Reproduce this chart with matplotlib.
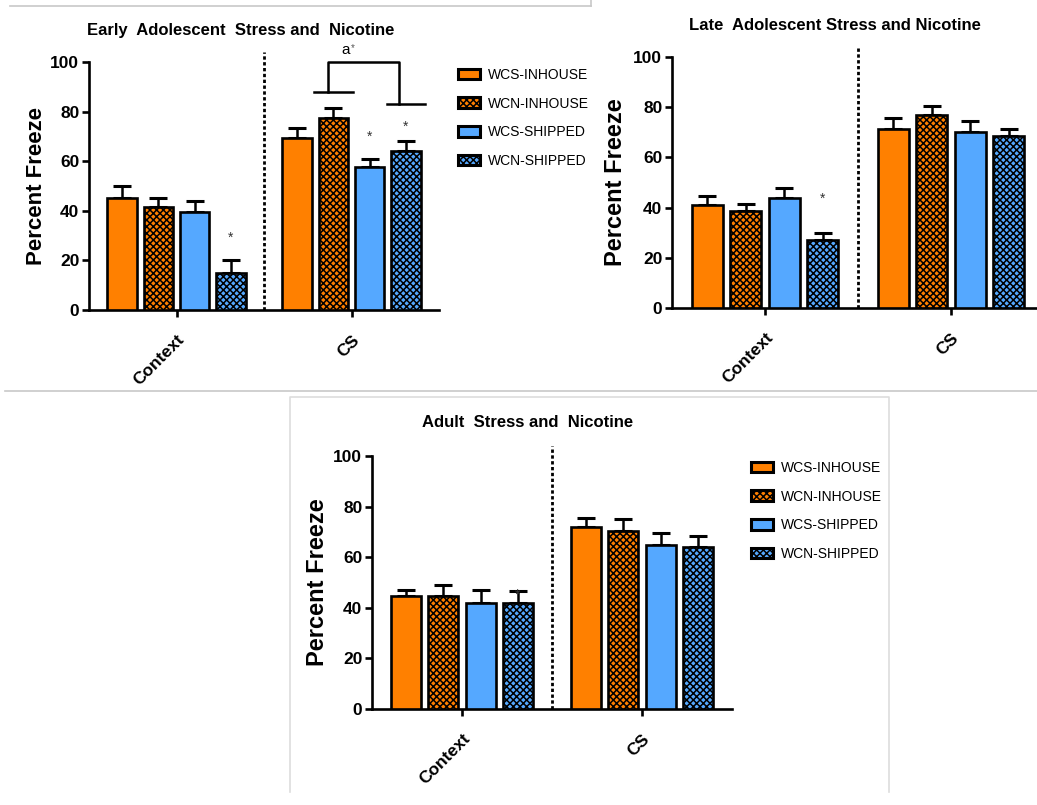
import numpy as np
import matplotlib
matplotlib.use("Agg")
import matplotlib.pyplot as plt
from matplotlib.patches import Patch
from matplotlib.lines import Line2D

plt.rcParams["font.family"] = ["Liberation Sans", "DejaVu Sans"]
plt.rcParams["hatch.linewidth"] = 1.1
plt.rcParams["hatch.color"] = "black"

# data
GROUPS = ["Context", "CS"]
SERIES = ["WCS-INHOUSE", "WCN-INHOUSE", "WCS-SHIPPED", "WCN-SHIPPED"]
COLORS = ["#FF8000", "#FF8000", "#55A8FF", "#55A8FF"]
HATCHES = [None, "xxxxx", None, "xxxxx"]

# rows = series, cols = (Context, CS)
EARLY_MEAN = [[45.0, 69.5], [41.5, 77.5], [39.5, 57.5], [15.0, 64.0]]
EARLY_SEM = [[5.0, 4.0], [3.5, 4.0], [4.5, 3.5], [5.0, 4.0]]
LATE_MEAN = [[41.0, 71.5], [38.5, 77.0], [44.0, 70.0], [27.0, 68.5]]
LATE_SEM = [[3.5, 4.0], [3.0, 3.5], [4.0, 4.5], [3.0, 3.0]]
ADULT_MEAN = [[44.5, 72.0], [44.5, 70.5], [42.0, 65.0], [42.0, 64.0]]
ADULT_SEM = [[2.5, 3.5], [4.5, 4.5], [5.0, 4.5], [4.5, 4.5]]

# significance stars: (group, series, value)
EARLY_STARS = [(0, 3, 29.0), (1, 2, 70.0), (1, 3, 74.0)]
LATE_STARS = [(0, 3, 43.5)]
ADULT_STARS = [(0, 3, 45.0)]

W, H = 1037, 805
fig = plt.figure(figsize=(W / 100, H / 100), dpi=100)

STEP, BW = 0.207, 0.168


def px_axes(l, r, t, b):
    return fig.add_axes([l / W, 1 - b / H, (r - l) / W, (b - t) / H])


def panel(ax, means, sems, stars, title, tx, ty, ylab_size=16):
    means = np.array(means)
    sems = np.array(sems)
    x = np.arange(len(GROUPS))
    for i in range(len(SERIES)):
        pos = x + (i - 1.5) * STEP
        ax.bar(pos, means[i], BW, color=COLORS[i], hatch=HATCHES[i],
               edgecolor="black", linewidth=1.9, zorder=3)
        ax.errorbar(pos, means[i], yerr=[np.zeros(len(x)), sems[i]], fmt="none",
                    ecolor="black", elinewidth=1.8, capsize=6.5, capthick=2.2, zorder=2)
    for g, s, v in stars:
        ax.text(g + (s - 1.5) * STEP, v, "*", ha="center", va="center",
                fontsize=10, color="#333333")
    ax.plot([0.5, 0.5], [0, 104], color="black", lw=2.0, ls=(0, (1.2, 0.9)),
            clip_on=False, zorder=1)
    ax.set_xlim(-0.5, 1.5)
    ax.set_ylim(0, 100)
    ax.set_yticks([0, 20, 40, 60, 80, 100])
    ax.set_xticks(x)
    ax.set_xticklabels(GROUPS, rotation=45, ha="right", rotation_mode="anchor",
                       fontsize=12.5, fontweight="bold")
    ax.set_yticklabels([str(v) for v in range(0, 101, 20)], fontsize=12.5,
                       fontweight="bold")
    for sp in ["top", "right"]:
        ax.spines[sp].set_visible(False)
    for sp in ["left", "bottom"]:
        ax.spines[sp].set_linewidth(1.9)
    ax.tick_params(width=1.9, length=5, pad=2)
    ax.tick_params(axis="x", pad=11)
    ax.set_ylabel("Percent Freeze", fontsize=ylab_size, fontweight="bold")
    ax.yaxis.set_label_coords(-0.12, 0.5)
    fig.text(tx / W, 1 - ty / H, title, ha="center", va="center",
             fontsize=12, fontweight="bold")


def legend(x, y):
    handles = [Patch(facecolor=COLORS[i], hatch=HATCHES[i], edgecolor="black",
                     linewidth=2.2, label=SERIES[i]) for i in range(len(SERIES))]
    fig.legend(handles=handles, loc="upper left", bbox_to_anchor=(x / W, 1 - y / H),
               frameon=False, borderpad=0, borderaxespad=0, handlelength=1.55,
               handleheight=0.8, handletextpad=0.6, labelspacing=1.05,
               prop={"size": 10})


# early adolescent
ax1 = px_axes(89, 439, 62, 310)
panel(ax1, EARLY_MEAN, EARLY_SEM, EARLY_STARS,
      "Early  Adolescent  Stress and  Nicotine", 241, 31)
# bracket between inhouse and shipped pairs
lc = 1 + (-0.5) * STEP
rc = 1 + 1.5 * STEP
ax1.plot([lc - 0.11, lc + 0.11], [88, 88], color="black", lw=1.8, clip_on=False)
ax1.plot([rc - 0.11, rc + 0.11], [83, 83], color="black", lw=1.8, clip_on=False)
ax1.plot([lc - 0.03, lc - 0.03, rc - 0.04, rc - 0.04], [88, 100, 100, 83],
         color="black", lw=1.8, clip_on=False)
ax1.text(0.968, 105, "a", ha="center", va="center", fontsize=11)
ax1.text(1.008, 105.5, "*", ha="center", va="center", fontsize=7, color="#555555")
legend(458, 68)

# late adolescent
ax2 = px_axes(672, 1044, 57, 308)
panel(ax2, LATE_MEAN, LATE_SEM, LATE_STARS,
      "Late  Adolescent Stress and Nicotine", 835, 25, ylab_size=17)

# adult
ax3 = px_axes(372, 732, 456, 709)
panel(ax3, ADULT_MEAN, ADULT_SEM, ADULT_STARS,
      "Adult  Stress and  Nicotine", 528, 422, ylab_size=17)
legend(751, 461)

# light frame lines of the composed figure
gray = "#c8c8c8"
fig.add_artist(Line2D([10 / W, 591 / W], [1 - 6 / H, 1 - 6 / H], color=gray, lw=1.2))
fig.add_artist(Line2D([591 / W, 591 / W], [1, 1 - 6 / H], color=gray, lw=1.2))
fig.add_artist(Line2D([5 / W, 1], [1 - 391 / H, 1 - 391 / H], color=gray, lw=1.2))
fig.add_artist(Line2D([290 / W, 290 / W, 889 / W, 889 / W],
                      [1 - 792 / H, 1 - 397 / H, 1 - 397 / H, 1 - 792 / H],
                      color="#dddddd", lw=1.2))

fig.savefig("out.png", dpi=100)
